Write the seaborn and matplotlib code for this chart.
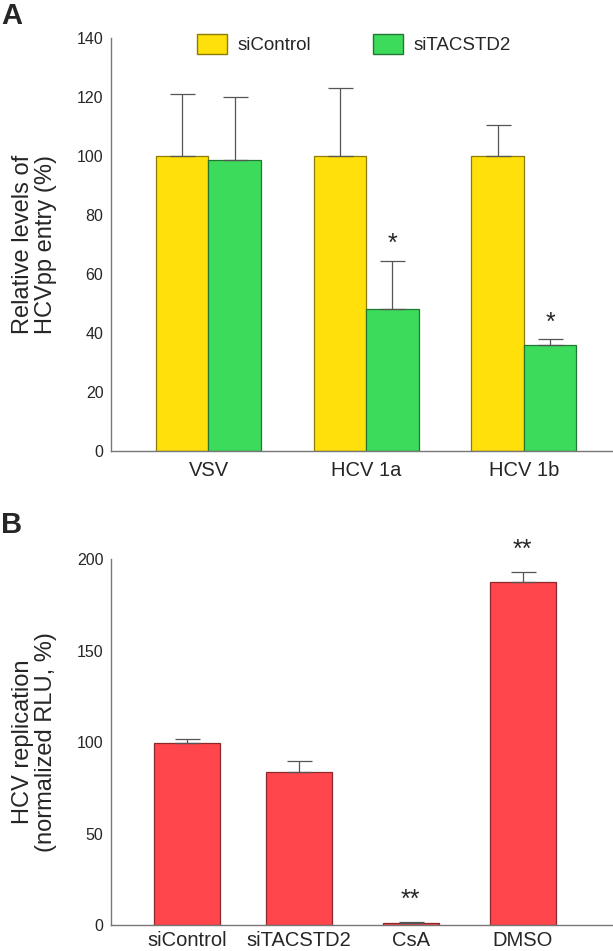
import numpy as np
import pandas as pd
import matplotlib
matplotlib.use("Agg")
import matplotlib.pyplot as plt
import matplotlib.colors as mcolors
from matplotlib.patches import Patch
import seaborn as sns

sns.set_style("white")
plt.rcParams["font.family"] = ["Liberation Sans", "DejaVu Sans"]

# ---- data: panel A (HCVpp entry) ----
entry_groups = ["VSV", "HCV 1a", "HCV 1b"]
entry_conditions = ["siControl", "siTACSTD2"]
entry_control = [100, 100, 100]
entry_control_err = [21, 23, 10.5]
entry_knockdown = [98.5, 48, 36]
entry_knockdown_err = [21.5, 16.5, 1.8]
entry_stars = ["", "*", "*"]  # marks over siTACSTD2 bars

# ---- data: panel B (HCV replication) ----
rep_labels = ["siControl", "siTACSTD2", "CsA", "DMSO"]
rep_values = [99.5, 83.8, 1.0, 187.5]
rep_err = [2.3, 5.7, 0.5, 5.3]
rep_stars = ["", "", "**", "**"]

yellow = "#FFE00A"
green = "#3DDB5B"
red = "#FF464C"
axis_grey = "#777777"
err_grey = "#555555"


def darken(c, f=0.55):
    r, g, b = mcolors.to_rgb(c)
    return (r * f, g * f, b * f)


def style_axis(ax, xpad=7):
    sns.despine(ax=ax)
    ax.spines["left"].set_color(axis_grey)
    ax.spines["bottom"].set_color(axis_grey)
    ax.spines["left"].set_linewidth(1.0)
    ax.spines["bottom"].set_linewidth(1.0)
    ax.tick_params(axis="y", direction="in", length=8.5, width=1.0,
                   color="#999999", labelsize=11.5, pad=5.5)
    ax.tick_params(axis="x", length=0, labelsize=14.5, pad=xpad)
    ax.set_xlabel("")


fig = plt.figure(figsize=(6.13, 9.51), dpi=100)
axA = fig.add_axes([0.1811, 0.5258, 0.8173, 0.4343])
axB = fig.add_axes([0.1811, 0.0273, 0.8173, 0.3849])

# ------------------------------------------------------------------
# Panel A
# ------------------------------------------------------------------
entry_df = pd.DataFrame({
    "group": entry_groups * 2,
    "condition": [entry_conditions[0]] * 3 + [entry_conditions[1]] * 3,
    "value": entry_control + entry_knockdown,
})
sns.barplot(data=entry_df, x="group", y="value", hue="condition",
            hue_order=entry_conditions, palette=[yellow, green],
            saturation=1, width=0.665, errorbar=None, legend=False,
            linewidth=0.9, ax=axA)

bars = sorted(axA.patches, key=lambda p: p.get_x())
tops = [v for pair in zip(entry_control, entry_knockdown) for v in pair]
errs = [v for pair in zip(entry_control_err, entry_knockdown_err) for v in pair]
xs = [p.get_x() + p.get_width() / 2 for p in bars]
for p in bars:
    p.set_edgecolor(darken(p.get_facecolor()))
axA.errorbar(xs, tops, yerr=[np.zeros(len(errs)), errs], fmt="none",
             ecolor=err_grey, elinewidth=0.9, capsize=9, capthick=0.9)
for i, s in enumerate(entry_stars):
    if s:
        k = 2 * i + 1
        axA.annotate(s, xy=(xs[k], tops[k] + errs[k]), xytext=(0, 12),
                     textcoords="offset points", ha="center", va="center",
                     fontsize=18)

axA.set_ylim(0, 140)
axA.set_yticks(range(0, 141, 20))
axA.set_xlim(-0.618, 2.559)
axA.set_ylabel("Relative levels of\nHCVpp entry (%)", fontsize=17,
               linespacing=1.05, labelpad=14)
style_axis(axA)

handles = [Patch(facecolor=yellow, edgecolor=darken(yellow)),
           Patch(facecolor=green, edgecolor=darken(green))]
axA.legend(handles, entry_conditions, loc="upper left",
           bbox_to_anchor=(0.1717, 1.01), ncol=2, frameon=False,
           fontsize=13.5, handlelength=1.6, handleheight=1.25,
           handletextpad=0.55, columnspacing=3.3, borderpad=0,
           borderaxespad=0)

# ------------------------------------------------------------------
# Panel B
# ------------------------------------------------------------------
rep_df = pd.DataFrame({"treatment": rep_labels, "value": rep_values})
sns.barplot(data=rep_df, x="treatment", y="value", color=red,
            saturation=1, width=0.59, errorbar=None, linewidth=0.9, ax=axB)

bars = sorted(axB.patches, key=lambda p: p.get_x())
for p, lab in zip(bars, rep_labels):
    p.set_edgecolor(darken(red))
    if lab == "CsA":
        # CsA bar is drawn a bit narrower in the original
        c = p.get_x() + p.get_width() / 2
        p.set_width(0.5)
        p.set_x(c - 0.25)
xs = [p.get_x() + p.get_width() / 2 for p in bars]
axB.errorbar(xs, rep_values, yerr=[np.zeros(len(rep_err)), rep_err],
             fmt="none", ecolor=err_grey, elinewidth=0.9, capsize=9,
             capthick=0.9)
for x, v, e, s in zip(xs, rep_values, rep_err, rep_stars):
    if s:
        axB.annotate(s, xy=(x, v + e), xytext=(0, 16),
                     textcoords="offset points", ha="center", va="center",
                     fontsize=18, annotation_clip=False)

axB.set_ylim(0, 200)
axB.set_yticks(range(0, 201, 50))
axB.set_xlim(-0.68, 3.8)
axB.set_ylabel("HCV replication\n(normalized RLU, %)", fontsize=17,
               linespacing=1.05, labelpad=14)
style_axis(axB, xpad=4.5)

fig.text(0.002, 0.998, "A", fontsize=21, fontweight="bold", va="top")
fig.text(0.002, 0.463, "B", fontsize=21, fontweight="bold", va="top")

fig.savefig("out.png", dpi=100)
